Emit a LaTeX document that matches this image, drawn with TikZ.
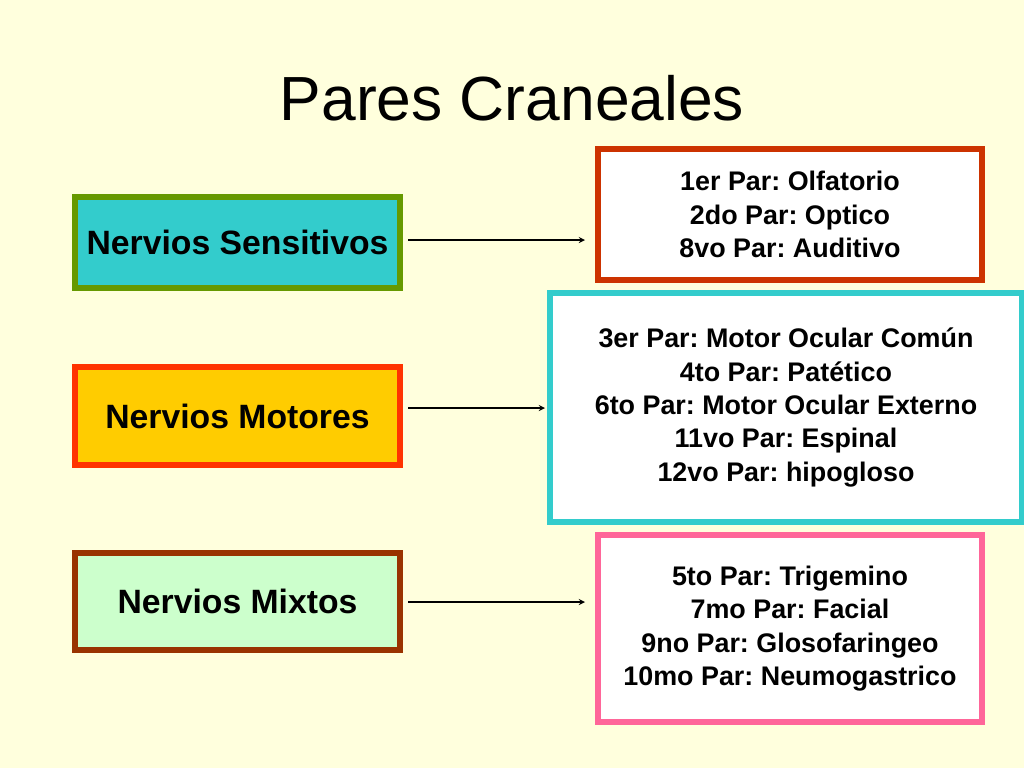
\documentclass[tikz,border=0pt]{standalone}
\usepackage{fontspec}
\setmainfont{Liberation Sans}
\frenchspacing
\begin{document}
\begin{tikzpicture}[x=0.02cm,y=-0.02cm,
 lbox/.style={draw,line width=3pt,font=\fontsize{19.2}{22}\selectfont\bfseries},
 rbox/.style={draw,line width=3pt,fill=white,align=center,font=\fontsize{15.3}{19}\selectfont\bfseries},
 arr/.style={-stealth,line width=0.6pt}]
\fill[fill={rgb,255:red,255;green,255;blue,221}] (0,0) rectangle (1024,768);
\useasboundingbox (0,0) rectangle (1024,768);
\definecolor{c1}{HTML}{33CCCC}\definecolor{b1}{HTML}{669900}
\definecolor{c2}{HTML}{FFCC00}\definecolor{b2}{HTML}{FF3300}
\definecolor{c3}{HTML}{CCFFCC}\definecolor{b3}{HTML}{993300}
\definecolor{r1}{HTML}{CC3300}\definecolor{r2}{HTML}{33CCCC}\definecolor{r3}{HTML}{FF6699}
\node[font=\fontsize{35.5}{38}\selectfont] (t) at (512,98) {Pares Craneales};
\draw[lbox,draw=b1,fill=c1] (75,197) rectangle (400,288) node[midway,draw=none] (s) {Nervios Sensitivos};
\draw[lbox,draw=b2,fill=c2] (75,367) rectangle (400,465) node[midway,draw=none] (m) {Nervios Motores};
\draw[lbox,draw=b3,fill=c3] (75,553) rectangle (400,650) node[midway,draw=none] (x) {Nervios Mixtos};
\draw[rbox,draw=r1] (598,149) rectangle (982,280) node[midway,draw=none,fill=none] (p1) {1er Par: Olfatorio\\2do Par: Optico\\8vo Par: Auditivo};
\draw[rbox,draw=r2] (550,293) rectangle (1022,522) node[midway,draw=none,fill=none] (p2) {3er Par: Motor Ocular Común\\4to Par: Patético\\6to Par: Motor Ocular Externo\\11vo Par: Espinal\\12vo Par: hipogloso};
\draw[rbox,draw=r3] (598,535) rectangle (982,722) node[midway,draw=none,fill=none] (p3) {5to Par: Trigemino\\7mo Par: Facial\\9no Par: Glosofaringeo\\10mo Par: Neumogastrico};
\coordinate (a1) at (408,240); \coordinate (e1) at (585,240);
\coordinate (a2) at (408,408); \coordinate (e2) at (545,408);
\coordinate (a3) at (408,602); \coordinate (e3) at (585,602);
\draw[arr] (a1) -- (e1);
\draw[arr] (a2) -- (e2);
\draw[arr] (a3) -- (e3);
\end{tikzpicture}
\end{document}
